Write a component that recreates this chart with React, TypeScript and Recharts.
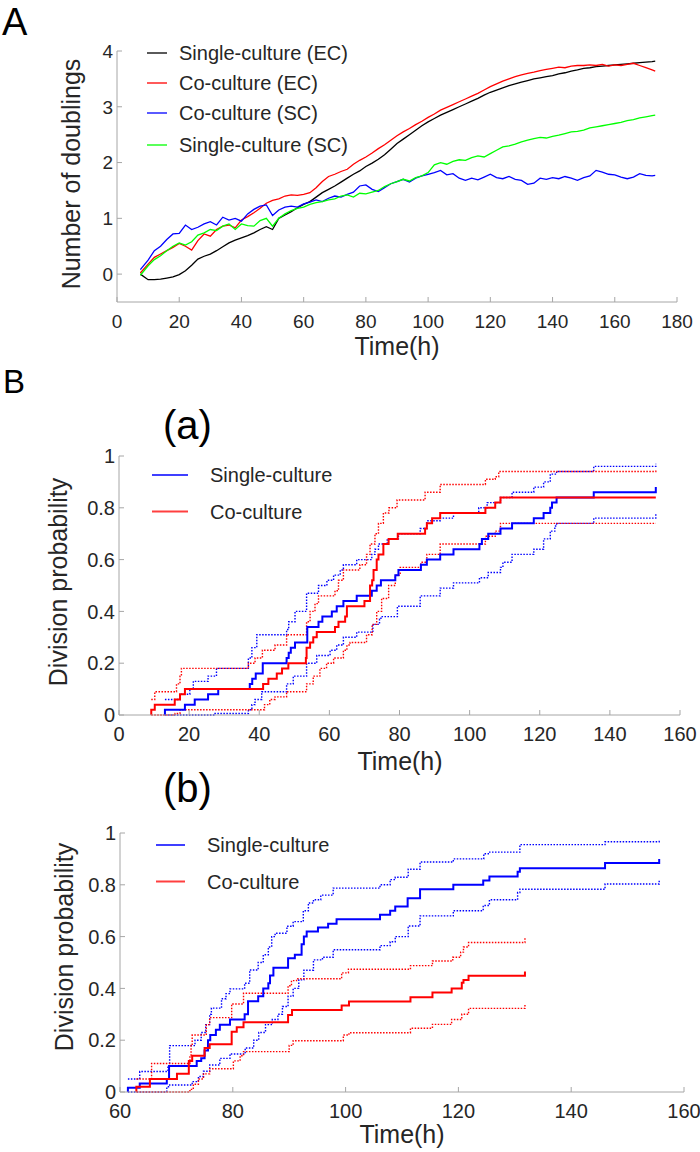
import React from 'react';
import { LineChart, Line, XAxis, YAxis } from 'recharts';

const FONT = '"Liberation Sans", Arial, Helvetica, sans-serif';
const AXIS = '#a6a6a6';
const TEXT = '#262626';

// ---- panel A: number of doublings vs time ----
const hoursA = [
  7.5, 10, 12, 14, 16, 18, 20, 22, 24, 26,
  28, 30, 32, 34, 36, 38, 40, 42, 44, 46,
  48, 50, 52, 54, 56, 58, 60, 62, 64, 66,
  68, 70, 72, 74, 76, 78, 80, 82, 84, 86,
  88, 90, 92, 94, 96, 98, 100, 102, 104, 106,
  108, 110, 112, 114, 116, 118, 120, 122, 124, 126,
  128, 130, 132, 134, 136, 138, 140, 142, 144, 146,
  148, 150, 152, 154, 156, 158, 160, 162, 164, 166,
  168, 170, 172, 173,
];
const singleEC = [
  0, -0.1, -0.1, -0.09, -0.07, -0.05, -0.01, 0.06, 0.16, 0.27,
  0.32, 0.36, 0.42, 0.49, 0.56, 0.61, 0.65, 0.69, 0.74, 0.8,
  0.85, 0.8, 1.0, 1.06, 1.12, 1.19, 1.25, 1.3, 1.38, 1.46,
  1.52, 1.58, 1.65, 1.72, 1.79, 1.85, 1.93, 1.99, 2.06, 2.14,
  2.24, 2.34, 2.42, 2.5, 2.58, 2.66, 2.73, 2.79, 2.85, 2.9,
  2.95, 3.0, 3.05, 3.1, 3.15, 3.21, 3.26, 3.3, 3.34, 3.38,
  3.41, 3.44, 3.47, 3.5, 3.52, 3.54, 3.56, 3.59, 3.61, 3.64,
  3.66, 3.69, 3.7, 3.72, 3.73, 3.74, 3.75, 3.76, 3.77, 3.78,
  3.79, 3.8, 3.81, 3.82,
];
const coEC = [
  0.02, 0.18, 0.3, 0.36, 0.42, 0.48, 0.55, 0.5, 0.43, 0.6,
  0.72, 0.68, 0.8, 0.86, 0.88, 0.83, 0.97, 1.03, 1.1, 1.18,
  1.27, 1.32, 1.35, 1.4, 1.42, 1.41, 1.43, 1.46, 1.55, 1.66,
  1.75, 1.79, 1.84, 1.88, 1.97, 2.04, 2.1, 2.17, 2.25, 2.32,
  2.4, 2.48, 2.55, 2.61, 2.68, 2.74, 2.81, 2.87, 2.94, 2.99,
  3.04, 3.09, 3.14, 3.19, 3.24, 3.3, 3.36, 3.41, 3.46, 3.5,
  3.54, 3.57, 3.6, 3.62, 3.65, 3.67, 3.69, 3.71, 3.7, 3.73,
  3.74, 3.74, 3.75, 3.74, 3.76, 3.73, 3.75, 3.74, 3.76, 3.78,
  3.74, 3.7, 3.66, 3.64,
];
const coSC = [
  0.08, 0.25, 0.42, 0.5, 0.62, 0.72, 0.73, 0.88, 0.8, 0.84,
  0.9, 0.94, 0.88, 1.02, 0.97, 1.0, 0.95, 1.08, 1.16, 1.22,
  1.24, 1.05, 1.15, 1.2, 1.22, 1.2, 1.26, 1.29, 1.33, 1.3,
  1.36, 1.4, 1.38, 1.43, 1.47, 1.58, 1.6, 1.52, 1.48, 1.55,
  1.62, 1.66, 1.7, 1.65, 1.72, 1.76, 1.79, 1.82, 1.86, 1.78,
  1.8, 1.72, 1.68, 1.72, 1.69, 1.74, 1.79, 1.73, 1.71, 1.75,
  1.7, 1.68, 1.61, 1.63, 1.72, 1.7, 1.73, 1.71, 1.75, 1.72,
  1.68, 1.73, 1.76, 1.86, 1.83, 1.79, 1.78, 1.74, 1.71, 1.74,
  1.8, 1.77, 1.76, 1.77,
];
const singleSC = [
  -0.02, 0.15, 0.26, 0.33, 0.42, 0.5, 0.56, 0.52, 0.58, 0.7,
  0.74, 0.8, 0.78, 0.86, 0.9, 0.8, 0.9, 0.87, 0.86, 0.96,
  1.0, 0.86, 1.0, 1.08, 1.14, 1.18, 1.2, 1.25, 1.28, 1.3,
  1.33, 1.35, 1.4, 1.42, 1.38, 1.45, 1.44, 1.47, 1.5, 1.57,
  1.62, 1.66, 1.7, 1.67, 1.73, 1.76, 1.82, 1.96, 2.0, 1.97,
  2.02, 2.05, 2.04, 2.09, 2.12, 2.1, 2.16, 2.22, 2.28, 2.3,
  2.33, 2.37, 2.4, 2.43, 2.45, 2.44, 2.47, 2.49, 2.52, 2.55,
  2.56, 2.58, 2.62, 2.64, 2.66, 2.68, 2.7, 2.72, 2.75, 2.77,
  2.8, 2.82, 2.84, 2.85,
];
const namesA = ['Single-culture (EC)', 'Co-culture (EC)', 'Co-culture (SC)', 'Single-culture (SC)'];
const colorsA = ['#000000', '#ff0000', '#0000ff', '#00ff00'];
const xTicksA = [0, 20, 40, 60, 80, 100, 120, 140, 160, 180];
const yTicksA = [0, 1, 2, 3, 4];

// ---- panel B(a): division probability, [time, probability] steps ----
const aSingle = [[13.1, 0], [13.1, 0.02], [18.8, 0.04], [21.6, 0.06], [25.4, 0.08], [28.3, 0.1], [37.3, 0.12], [38, 0.14], [39, 0.16], [41, 0.2], [47.8, 0.22], [48.4, 0.24], [49, 0.26], [50.2, 0.28], [53.7, 0.34], [56.9, 0.36], [58, 0.38], [60.7, 0.4], [62.1, 0.42], [64, 0.44], [67.8, 0.46], [72.1, 0.48], [73.5, 0.5], [74.7, 0.52], [78.8, 0.54], [79.7, 0.56], [86.1, 0.58], [87.8, 0.6], [91.6, 0.62], [95.4, 0.64], [102.8, 0.66], [103.5, 0.68], [105.3, 0.7], [108.8, 0.72], [112.1, 0.74], [118.3, 0.76], [121.1, 0.78], [123, 0.8], [123.5, 0.82], [124.8, 0.84], [135.4, 0.86], [153.1, 0.86], [153.1, 0.88]];
const aSingleHi = [[13.1, 0.06], [17.4, 0.08], [20.2, 0.1], [21.2, 0.13], [25.4, 0.15], [27.8, 0.18], [36.9, 0.22], [37.9, 0.26], [39.3, 0.31], [47.8, 0.33], [48.4, 0.36], [50.2, 0.4], [53.5, 0.47], [56.9, 0.5], [59.3, 0.52], [61.2, 0.54], [63.1, 0.56], [64, 0.58], [67.8, 0.6], [72.1, 0.62], [73, 0.64], [74, 0.66], [76.5, 0.68], [79.7, 0.7], [85.9, 0.72], [87.8, 0.75], [91.6, 0.76], [95.4, 0.78], [102.6, 0.8], [105, 0.82], [108.8, 0.84], [112.1, 0.86], [118.3, 0.88], [121.1, 0.9], [123, 0.93], [124.8, 0.94], [135.4, 0.96], [153.1, 0.96], [153.1, 0.97]];
const aSingleLo = [[13.1, 0], [27.4, 0.006], [36.9, 0.02], [37.9, 0.04], [38.8, 0.06], [40.7, 0.09], [47.8, 0.12], [49.7, 0.15], [53.5, 0.2], [56.4, 0.23], [60.2, 0.25], [62.1, 0.27], [64, 0.3], [67.8, 0.32], [72.4, 0.35], [74.3, 0.37], [74.7, 0.38], [79.4, 0.42], [85.9, 0.46], [91.6, 0.49], [95.4, 0.51], [102.8, 0.53], [105.3, 0.55], [108.8, 0.57], [109.5, 0.59], [112.1, 0.62], [118.3, 0.64], [121.1, 0.68], [123, 0.71], [124.3, 0.73], [124.8, 0.74], [135.4, 0.76], [153.1, 0.76], [153.1, 0.78]];
const aCo = [[9.2, 0], [9.2, 0.02], [10.2, 0.04], [15.9, 0.06], [17.4, 0.08], [18.8, 0.1], [41.1, 0.12], [42.6, 0.14], [45, 0.16], [46.5, 0.18], [48.3, 0.2], [53.3, 0.22], [53.5, 0.26], [54.5, 0.28], [55.4, 0.3], [56.4, 0.32], [61.6, 0.34], [62.6, 0.36], [64.5, 0.38], [65, 0.42], [70, 0.44], [71.6, 0.5], [72.2, 0.52], [72.6, 0.56], [73.5, 0.6], [74, 0.62], [75.4, 0.66], [76.9, 0.68], [79.5, 0.7], [87.3, 0.72], [87.8, 0.74], [89.3, 0.76], [91.6, 0.78], [104.5, 0.8], [107.3, 0.82], [108.8, 0.84], [153.1, 0.84]];
const aCoHi = [[9.2, 0.06], [10.2, 0.09], [16.4, 0.12], [17.4, 0.15], [17.8, 0.18], [36.9, 0.2], [38.8, 0.22], [40.9, 0.25], [44.5, 0.27], [47.8, 0.31], [53.5, 0.36], [54.5, 0.4], [55.9, 0.43], [56.9, 0.46], [61.6, 0.48], [62.6, 0.52], [64, 0.56], [68.7, 0.58], [70.6, 0.62], [71.6, 0.66], [73, 0.7], [74, 0.74], [75.4, 0.78], [77, 0.8], [79.3, 0.83], [87.3, 0.86], [91.6, 0.89], [104.5, 0.91], [107.3, 0.92], [108.3, 0.94], [153.1, 0.94], [153.1, 0.95]];
const aCoLo = [[9.2, 0], [16, 0.006], [17.4, 0.02], [41.5, 0.04], [43, 0.06], [44.5, 0.07], [47.8, 0.09], [53.5, 0.12], [55.4, 0.15], [57.3, 0.18], [59.2, 0.2], [61.2, 0.22], [64, 0.25], [65, 0.27], [65.9, 0.28], [70.6, 0.31], [72.2, 0.35], [73.5, 0.4], [74.9, 0.45], [76.9, 0.5], [78.8, 0.54], [80.2, 0.57], [86.1, 0.59], [87.8, 0.62], [91.6, 0.66], [104.5, 0.69], [107.3, 0.71], [108.8, 0.74], [153.1, 0.74]];

// ---- panel B(b) ----
const bSingle = [[61.4, 0], [61.4, 0.016], [63.5, 0.033], [68.3, 0.05], [68.7, 0.1], [73.6, 0.12], [74.4, 0.13], [75, 0.16], [75.6, 0.2], [76, 0.22], [77, 0.24], [77.7, 0.26], [79.5, 0.28], [82.1, 0.3], [82.7, 0.35], [84.5, 0.37], [85.4, 0.4], [86.3, 0.42], [86.6, 0.45], [87.2, 0.48], [89.8, 0.516], [91, 0.53], [92.2, 0.57], [92.6, 0.6], [93.1, 0.62], [95.1, 0.635], [96.9, 0.65], [98.4, 0.667], [106.1, 0.684], [107.9, 0.7], [108.8, 0.716], [111, 0.748], [113.2, 0.783], [119.1, 0.8], [124.4, 0.817], [125.5, 0.832], [130.5, 0.85], [130.9, 0.864], [146, 0.884], [155.6, 0.884], [155.6, 0.9]];
const bSingleHi = [[61.4, 0.05], [63.5, 0.079], [68.5, 0.1], [68.8, 0.179], [73.3, 0.2], [74.4, 0.23], [75.2, 0.26], [75.9, 0.3], [76.2, 0.324], [78, 0.36], [78.8, 0.38], [79.5, 0.398], [82.1, 0.42], [83, 0.471], [84.5, 0.5], [85.4, 0.53], [86.3, 0.56], [86.9, 0.6], [87.5, 0.613], [89.6, 0.64], [90.7, 0.658], [92.5, 0.7], [93.4, 0.73], [94.3, 0.742], [95.6, 0.76], [97.8, 0.787], [106.1, 0.8], [107.9, 0.82], [108.8, 0.829], [111.1, 0.86], [113.2, 0.888], [119.1, 0.9], [124.5, 0.92], [125.3, 0.926], [130.9, 0.955], [146, 0.966], [155.6, 0.966], [155.6, 0.975]];
const bSingleLo = [[61.4, 0], [68.3, 0.02], [68.8, 0.027], [72.8, 0.04], [73.9, 0.06], [74.8, 0.08], [75.9, 0.104], [77.7, 0.13], [79.5, 0.147], [82.2, 0.17], [83.7, 0.2], [84.6, 0.23], [85.8, 0.26], [87, 0.28], [88, 0.3], [88.8, 0.33], [89.8, 0.37], [90.7, 0.4], [91.7, 0.433], [92.6, 0.47], [94.3, 0.51], [95.9, 0.52], [97.8, 0.549], [106.1, 0.565], [107.9, 0.58], [108.8, 0.6], [111.1, 0.641], [113.2, 0.68], [119.1, 0.7], [124.4, 0.72], [125.5, 0.742], [130.5, 0.77], [130.9, 0.783], [146, 0.803], [155.6, 0.803], [155.6, 0.82]];
const bCo = [[62.9, 0], [62.9, 0.02], [65.3, 0.05], [70.1, 0.07], [72.2, 0.12], [72.8, 0.14], [75, 0.17], [75.9, 0.184], [79.8, 0.233], [80.7, 0.25], [81.9, 0.269], [89.8, 0.297], [90.5, 0.317], [99.3, 0.334], [100.6, 0.349], [111.5, 0.366], [115.4, 0.384], [118.8, 0.4], [120.6, 0.422], [120.9, 0.432], [121.8, 0.449], [131.8, 0.449], [131.8, 0.465]];
const bCoHi = [[62.9, 0.05], [65.6, 0.11], [72.4, 0.14], [72.6, 0.18], [72.8, 0.22], [75.3, 0.26], [75.9, 0.287], [79.8, 0.34], [81.9, 0.381], [89.8, 0.41], [90.4, 0.43], [91.3, 0.437], [99.3, 0.46], [100.5, 0.474], [111.5, 0.488], [115.4, 0.506], [119, 0.52], [120.4, 0.54], [120.9, 0.56], [121.8, 0.577], [131.8, 0.577], [131.8, 0.595]];
const bCoLo = [[62.9, 0], [72.4, 0.01], [73, 0.03], [73.9, 0.05], [74.8, 0.07], [75.9, 0.09], [80.1, 0.12], [81.3, 0.14], [81.9, 0.156], [90, 0.18], [90.7, 0.198], [99.6, 0.22], [100.6, 0.229], [111.5, 0.246], [115.4, 0.261], [118.8, 0.28], [120.6, 0.3], [121.8, 0.323], [131.8, 0.323], [131.8, 0.34]];

const namesB = ['Single-culture', 'Co-culture'];
const colorsB = ['#0000ff', '#ff0000'];
const xTicksBa = [0, 20, 40, 60, 80, 100, 120, 140, 160];
const xTicksBb = [60, 80, 100, 120, 140, 160];
const yTicksB = [0, 0.2, 0.4, 0.6, 0.8, 1];

const dataA = hoursA.map((t, i) => ({
  t,
  singleEC: singleEC[i],
  coEC: coEC[i],
  coSC: coSC[i],
  singleSC: singleSC[i],
}));
const pts = (arr: number[][]) => arr.map(([t, p]) => ({ t, p }));

function XTick(props: any) {
  const { x, y, payload, fs } = props;
  return (
    <g>
      <line x1={x} x2={x} y1={y} y2={y - 5} stroke={AXIS} />
      <text x={x} y={y + 26} textAnchor="middle" fontSize={fs} fill={TEXT} fontFamily={FONT}>
        {payload.value}
      </text>
    </g>
  );
}

function YTick(props: any) {
  const { x, y, payload, fs } = props;
  return (
    <g>
      <line x1={x} x2={x + 5} y1={y} y2={y} stroke={AXIS} />
      <text x={x - 4} y={y} dy="0.36em" textAnchor="end" fontSize={fs} fill={TEXT} fontFamily={FONT}>
        {payload.value}
      </text>
    </g>
  );
}

function StepChart({ top, height, marginTop, marginRight, yWidth, xHeight, domain, xTicks, sets }: any) {
  return (
    <div style={{ position: 'absolute', left: 0, top }}>
      <LineChart width={700} height={height} margin={{ top: marginTop, right: marginRight, left: 0, bottom: 0 }}>
        <XAxis
          dataKey="t"
          type="number"
          domain={domain}
          ticks={xTicks}
          interval={0}
          height={xHeight}
          tickSize={0}
          tickMargin={0}
          tickLine={false}
          axisLine={{ stroke: AXIS }}
          tick={(p: any) => <XTick {...p} fs={20} />}
          allowDuplicatedCategory={false}
        />
        <YAxis
          type="number"
          domain={[0, 1]}
          ticks={yTicksB}
          interval={0}
          width={yWidth}
          tickSize={0}
          tickMargin={0}
          tickLine={false}
          axisLine={{ stroke: AXIS }}
          tick={(p: any) => <YTick {...p} fs={20} />}
        />
        {sets.map((s: any, i: number) => (
          <Line
            key={i}
            data={pts(s.data)}
            dataKey="p"
            type="stepAfter"
            stroke={s.color}
            strokeWidth={s.dotted ? 1.4 : 2}
            strokeDasharray={s.dotted ? '1.5 1.5' : undefined}
            dot={false}
            activeDot={false}
            isAnimationActive={false}
          />
        ))}
      </LineChart>
    </div>
  );
}

export default function App() {
  const seriesA = ['singleEC', 'coEC', 'coSC', 'singleSC'];
  return (
    <div style={{ position: 'absolute', left: 0, top: 0, width: 700, height: 1152, background: '#fff', overflow: 'hidden' }}>
      <div style={{ position: 'absolute', left: 0, top: 0 }}>
        <LineChart width={700} height={340} data={dataA} margin={{ top: 51, right: 23, left: 0, bottom: 0 }}>
          <XAxis
            dataKey="t"
            type="number"
            domain={[0, 180]}
            ticks={xTicksA}
            interval={0}
            height={38}
            tickSize={0}
            tickMargin={0}
            tickLine={false}
            axisLine={{ stroke: AXIS }}
            tick={(p: any) => <XTick {...p} fs={19} />}
          />
          <YAxis
            type="number"
            domain={[-0.5, 4]}
            ticks={yTicksA}
            interval={0}
            width={117}
            tickSize={0}
            tickMargin={0}
            tickLine={false}
            axisLine={{ stroke: AXIS }}
            tick={(p: any) => <YTick {...p} fs={19} />}
          />
          {seriesA.map((k, i) => (
            <Line
              key={k}
              dataKey={k}
              type="linear"
              stroke={colorsA[i]}
              strokeWidth={1.3}
              dot={false}
              activeDot={false}
              isAnimationActive={false}
            />
          ))}
        </LineChart>
      </div>

      <StepChart
        top={440}
        height={310}
        marginTop={16}
        marginRight={20}
        yWidth={119}
        xHeight={35}
        domain={[0, 160]}
        xTicks={xTicksBa}
        sets={[
          { data: aSingleHi, color: colorsB[0], dotted: true },
          { data: aSingleLo, color: colorsB[0], dotted: true },
          { data: aCoHi, color: colorsB[1], dotted: true },
          { data: aCoLo, color: colorsB[1], dotted: true },
          { data: aSingle, color: colorsB[0] },
          { data: aCo, color: colorsB[1] },
        ]}
      />

      <StepChart
        top={820}
        height={312}
        marginTop={13}
        marginRight={16}
        yWidth={120}
        xHeight={40}
        domain={[60, 160]}
        xTicks={xTicksBb}
        sets={[
          { data: bSingleHi, color: colorsB[0], dotted: true },
          { data: bSingleLo, color: colorsB[0], dotted: true },
          { data: bCoHi, color: colorsB[1], dotted: true },
          { data: bCoLo, color: colorsB[1], dotted: true },
          { data: bSingle, color: colorsB[0] },
          { data: bCo, color: colorsB[1] },
        ]}
      />

      {/* labels, titles and legends */}
      <svg
        width={700}
        height={1152}
        style={{ position: 'absolute', left: 0, top: 0, pointerEvents: 'none' }}
        fontFamily={FONT}
        fill={TEXT}
      >
        <text x={2} y={35} fontSize={38} fill="#000">A</text>
        <text x={3} y={393} fontSize={33} fill="#000">B</text>
        <text x={163} y={439} fontSize={40} fill="#000">(a)</text>
        <text x={163} y={802} fontSize={40} fill="#000">(b)</text>

        <text x={80} y={174} fontSize={25} textAnchor="middle" transform="rotate(-90 80 174)">Number of doublings</text>
        <text x={397} y={355} fontSize={25} textAnchor="middle">Time(h)</text>
        <text x={67} y={582} fontSize={25} textAnchor="middle" transform="rotate(-90 67 582)">Division probability</text>
        <text x={400} y={770} fontSize={25} textAnchor="middle">Time(h)</text>
        <text x={73} y={947} fontSize={25} textAnchor="middle" transform="rotate(-90 73 947)">Division probability</text>
        <text x={402} y={1143} fontSize={25} textAnchor="middle">Time(h)</text>

        {namesA.map((n, i) => {
          const y = [53, 83, 113, 145][i];
          return (
            <g key={n}>
              <line x1={147} x2={167} y1={y} y2={y} stroke={colorsA[i]} strokeWidth={1.3} />
              <text x={179} y={y + 7} fontSize={20}>{n}</text>
            </g>
          );
        })}
        {namesB.map((n, i) => {
          const y = [475, 511.5][i];
          return (
            <g key={'a' + n}>
              <line x1={152} x2={188} y1={y} y2={y} stroke={colorsB[i]} strokeWidth={2} opacity={0.75} />
              <text x={210} y={y + 7} fontSize={20}>{n}</text>
            </g>
          );
        })}
        {namesB.map((n, i) => {
          const y = [845, 881.5][i];
          return (
            <g key={'b' + n}>
              <line x1={156} x2={185} y1={y} y2={y} stroke={colorsB[i]} strokeWidth={2} opacity={0.75} />
              <text x={207} y={y + 7} fontSize={20}>{n}</text>
            </g>
          );
        })}
      </svg>
    </div>
  );
}
